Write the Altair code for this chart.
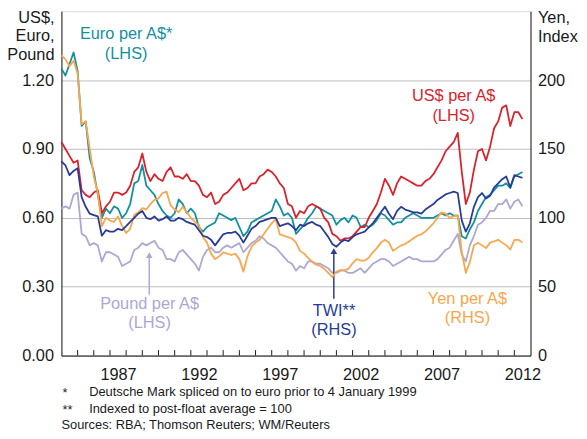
import altair as alt
import pandas as pd

# Quarterly observations, 1984 Q1 .. 2012 Q3 (decimal years)
quarters = [1984 + i * 0.25 for i in range(115)]

# US$ per A$ (LHS)
usd = [0.93, 0.90, 0.87, 0.84,  0.85, 0.72, 0.70, 0.69,  0.71, 0.72, 0.62, 0.65,
       0.67, 0.71, 0.71, 0.70,  0.71, 0.74, 0.80, 0.82,  0.88, 0.80, 0.76, 0.79,
       0.77, 0.76, 0.80, 0.82,  0.78, 0.78, 0.77, 0.79,  0.76, 0.76, 0.74, 0.70,
       0.69, 0.71, 0.66, 0.67,  0.70, 0.71, 0.73, 0.75,  0.77, 0.72, 0.73, 0.75,
       0.75, 0.78, 0.79, 0.81,  0.80, 0.78, 0.75, 0.73,  0.66, 0.65, 0.60, 0.63,
       0.62, 0.65, 0.66, 0.65,  0.64, 0.60, 0.58, 0.53,  0.52, 0.50, 0.51, 0.51,
       0.52, 0.54, 0.56, 0.56,  0.60, 0.63, 0.66, 0.71,  0.77, 0.74, 0.70, 0.75,
       0.78, 0.77, 0.76, 0.75,  0.74, 0.74, 0.76, 0.77,  0.79, 0.82, 0.85, 0.89,
       0.91, 0.93, 0.97, 0.80,  0.66, 0.71, 0.81, 0.89,  0.90, 0.85, 0.91, 0.99,
       1.02, 1.08, 1.09, 1.00,  1.06, 1.06, 1.03]

# Euro per A$ (Deutsche Mark spliced) (LHS)
eur = [1.25, 1.22, 1.27, 1.32,  1.24, 1.00, 1.02, 0.86,  0.80, 0.70, 0.60, 0.64,
       0.62, 0.65, 0.64, 0.60,  0.62, 0.66, 0.75, 0.76,  0.83, 0.74, 0.72, 0.70,
       0.66, 0.63, 0.61, 0.60,  0.62, 0.68, 0.66, 0.62,  0.64, 0.62, 0.56, 0.54,
       0.56, 0.57, 0.58, 0.62,  0.61, 0.60, 0.59, 0.60,  0.56, 0.52, 0.54, 0.58,
       0.59, 0.60, 0.61, 0.62,  0.63, 0.68, 0.65, 0.61,  0.62, 0.60, 0.53, 0.55,
       0.57, 0.60, 0.62, 0.65,  0.64, 0.63, 0.62, 0.61,  0.57, 0.59, 0.60, 0.58,
       0.61, 0.60, 0.56, 0.57,  0.56, 0.57, 0.59, 0.62,  0.61, 0.59, 0.57, 0.58,
       0.58, 0.60, 0.61, 0.62,  0.61, 0.60, 0.60, 0.60,  0.60, 0.61, 0.62, 0.61,
       0.62, 0.61, 0.61, 0.52,  0.51, 0.55, 0.58, 0.63,  0.66, 0.69, 0.70, 0.72,
       0.74, 0.74, 0.75, 0.73,  0.78, 0.79, 0.80]

# Pound per A$ (LHS)
gbp = [0.64, 0.65, 0.64, 0.70,  0.71, 0.53, 0.52, 0.48,  0.49, 0.48, 0.41, 0.45,
       0.45, 0.44, 0.43, 0.39,  0.40, 0.41, 0.46, 0.47,  0.49, 0.48, 0.49, 0.50,
       0.47, 0.46, 0.42, 0.42,  0.41, 0.45, 0.46, 0.44,  0.42, 0.40, 0.37, 0.43,
       0.46, 0.47, 0.45, 0.45,  0.47, 0.48, 0.47, 0.48,  0.49, 0.45, 0.47, 0.49,
       0.50, 0.52, 0.51, 0.49,  0.48, 0.47, 0.45, 0.43,  0.41, 0.40, 0.37, 0.39,
       0.38, 0.41, 0.41, 0.40,  0.40, 0.39, 0.38, 0.36,  0.36, 0.37, 0.37, 0.36,
       0.36, 0.37, 0.38, 0.36,  0.38, 0.40, 0.41, 0.42,  0.42, 0.41, 0.39, 0.40,
       0.41, 0.42, 0.43, 0.42,  0.42, 0.41, 0.41, 0.41,  0.41, 0.42, 0.44, 0.46,
       0.47, 0.50, 0.53, 0.44,  0.41, 0.48, 0.52, 0.57,  0.58, 0.60, 0.63, 0.63,
       0.66, 0.66, 0.68, 0.64,  0.67, 0.68, 0.65]

# Yen per A$ (RHS)
jpy = [218, 215, 210, 214,  205, 168, 170, 150,  130, 118, 94, 100,
       98, 97, 101, 94,  89, 92, 102, 104,  107, 106, 110, 113,
       114, 118, 119, 109,  106, 104, 108, 104,  100, 97, 95, 86,
       82, 74, 70, 72,  75, 74, 73, 74,  70, 61, 72, 79,
       82, 84, 88, 92,  96, 99, 88, 87,  86, 85, 82, 76,
       74, 71, 68, 66,  65, 63, 60, 57,  61, 62, 62, 63,
       67, 70, 69, 69,  71, 75, 78, 82,  84, 82, 76, 78,
       80, 81, 83, 85,  87, 88, 90, 93,  96, 100, 104, 103,
       100, 101, 102, 75,  60, 68, 80, 82,  80, 78, 82, 83,
       84, 82, 80, 77,  84, 84, 82]

# Trade-weighted index, post-float average = 100 (RHS)
twi = [141, 138, 131, 134,  136, 115, 108, 103,  102, 101, 87, 91,
       90, 90, 92, 91,  94, 97, 100, 103,  105, 100, 99, 101,
       98, 99, 101, 98,  98, 100, 99, 97,  96, 95, 91, 87,
       86, 84, 80, 84,  88, 89, 89, 90,  87, 82, 87, 92,
       94, 97, 98, 99,  100, 100, 94, 95,  96, 94, 91, 95,
       94, 96, 97, 95,  94, 90, 86, 81,  79, 82, 84, 83,
       86, 88, 89, 90,  93, 96, 100, 104,  108, 103, 99, 105,
       108, 106, 105, 104,  104, 103, 106, 108,  110, 113, 115, 117,
       118, 119, 118, 98,  90, 96, 108, 115,  118, 114, 116, 122,
       125, 128, 130, 122,  131, 130, 129]

series_colors = {
    "Pound per A$": "#aba8d3",
    "Yen per A$": "#f9a64c",
    "Euro per A$": "#13909f",
    "TWI": "#283c96",
    "US$ per A$": "#d8232d",
}

rows = []
for name, vals in [("Pound per A$", gbp), ("Euro per A$", eur), ("US$ per A$", usd)]:
    for t, v in zip(quarters, vals):
        rows.append({"t": t, "v": v, "s": name})
lhs_df = pd.DataFrame(rows)
rows = []
for name, vals in [("Yen per A$", jpy), ("TWI", twi)]:
    for t, v in zip(quarters, vals):
        rows.append({"t": t, "v": v, "s": name})
rhs_df = pd.DataFrame(rows)

FONT = "Liberation Sans"
INK = "#1a1a1a"
xscale = alt.Scale(domain=[1984, 2013], nice=False, zero=False)
lscale = alt.Scale(domain=[0, 1.5], nice=False)
rscale = alt.Scale(domain=[0, 250], nice=False)
color_scale = alt.Scale(domain=list(series_colors.keys()), range=list(series_colors.values()))
no_legend = alt.Color("s:N", scale=color_scale, legend=None)

label_years = [1987.5, 1992.5, 1997.5, 2002.5, 2007.5, 2012.5]
x_axis = alt.Axis(values=label_years, labelExpr="floor(datum.value)", ticks=False, grid=False,
                  title=None, labelFontSize=16.5, labelColor=INK, labelPadding=11,
                  domainColor=INK, labelFont=FONT)

lhs_lines = alt.Chart(lhs_df).mark_line(strokeWidth=1.8, strokeJoin="round").encode(
    x=alt.X("t:Q", scale=xscale, axis=x_axis),
    y=alt.Y("v:Q", scale=lscale,
            axis=alt.Axis(values=[0, 0.3, 0.6, 0.9, 1.2], format=".2f", title=None, ticks=False,
                          grid=True, gridColor="#bdbdbd", gridWidth=1, labelFontSize=16.5,
                          labelColor=INK, labelPadding=8, domainColor=INK, labelFont=FONT)),
    color=no_legend,
    detail="s:N",
)

# inner year ticks on the bottom axis
tick_years = list(range(1985, 2013))
ticks = alt.Chart(pd.DataFrame({"t": tick_years})).mark_rule(color=INK, strokeWidth=1).encode(
    x=alt.X("t:Q", scale=xscale),
    y=alt.value(348), y2=alt.value(342.5),
)

# annotations (positioned in LHS data space)
ann_text = ["Euro per A$*", "(LHS)", "US$ per A$", "(LHS)", "Pound per A$", "(LHS)",
            "TWI**", "(RHS)", "Yen per A$", "(RHS)"]
ann_t = [1988.0, 1988.0, 2008.25, 2008.25, 1989.45, 1989.45, 2000.85, 2000.85, 2009.1, 2009.1]
ann_v = [1.399, 1.312, 1.131, 1.045, 0.226, 0.140, 0.192, 0.110, 0.248, 0.162]
ann_s = ["Euro per A$", "Euro per A$", "US$ per A$", "US$ per A$", "Pound per A$", "Pound per A$",
         "TWI", "TWI", "Yen per A$", "Yen per A$"]
ann_df = pd.DataFrame({"txt": ann_text, "t": ann_t, "v": ann_v, "s": ann_s})
ann = alt.Chart(ann_df).mark_text(font=FONT, fontSize=16.5, baseline="middle", align="center").encode(
    x=alt.X("t:Q", scale=xscale),
    y=alt.Y("v:Q", scale=lscale),
    text="txt:N",
    color=no_legend,
)

arrow_t = [1989.43, 2000.84]
arrow_from = [0.265, 0.248]
arrow_to = [0.437, 0.455]
arrow_s = ["Pound per A$", "TWI"]
shaft_df = pd.DataFrame({"t": arrow_t, "v": arrow_from, "v1": arrow_to, "s": arrow_s})
head_df = pd.DataFrame({"t": arrow_t, "v": arrow_to, "s": arrow_s})
arrow_shaft = alt.Chart(shaft_df).mark_rule(strokeWidth=1.5).encode(
    x=alt.X("t:Q", scale=xscale),
    y=alt.Y("v:Q", scale=lscale),
    y2="v1:Q",
    color=no_legend,
)
arrow_head = alt.Chart(head_df).mark_point(shape="triangle-up", filled=True, size=45, opacity=1).encode(
    x=alt.X("t:Q", scale=xscale),
    y=alt.Y("v:Q", scale=lscale),
    color=no_legend,
)

left = alt.layer(lhs_lines, ticks, ann, arrow_shaft, arrow_head)

rhs_lines = alt.Chart(rhs_df).mark_line(strokeWidth=1.8, strokeJoin="round").encode(
    x=alt.X("t:Q", scale=xscale),
    y=alt.Y("v:Q", scale=rscale,
            axis=alt.Axis(orient="right", values=[0, 50, 100, 150, 200], title=None, ticks=False,
                          grid=False, labelFontSize=16.5, labelColor=INK, labelPadding=7,
                          domainColor=INK, labelFont=FONT)),
    color=no_legend,
    detail="s:N",
)

# unit labels and footnotes: fixed positions outside the plot area
one = pd.DataFrame({"k": [0]})
static_items = [
    ("US$,", -7, 7, "right", 16.5), ("Euro,", -7, 25, "right", 16.5), ("Pound", -7, 44, "right", 16.5),
    ("Yen,", 481.5, 7, "left", 16.5), ("Index", 481.5, 26, "left", 16.5),
    ("*", 1, 386, "left", 13), ("Deutsche Mark spliced on to euro prior to 4 January 1999", 28, 385, "left", 13),
    ("**", 1, 403, "left", 13), ("Indexed to post-float average = 100", 28, 402, "left", 13),
    ("Sources: RBA; Thomson Reuters; WM/Reuters", 0, 418, "left", 13),
]
statics = []
for txt, xx, yy, al, fs in static_items:
    statics.append(
        alt.Chart(one).mark_text(text=txt, font=FONT, fontSize=fs, align=al, baseline="middle",
                                 color=INK).encode(x=alt.value(xx), y=alt.value(yy))
    )

chart = alt.layer(left, rhs_lines, *statics).resolve_scale(y="independent").properties(
    width=474, height=348,
    autosize=alt.AutoSizeParams(type="none"),
    padding={"left": 54, "top": 1, "right": 49, "bottom": 74},
).configure_view(stroke=INK, strokeWidth=1).configure(font=FONT)

chart.save("out.html", embed_options={"renderer": "svg", "actions": False})
